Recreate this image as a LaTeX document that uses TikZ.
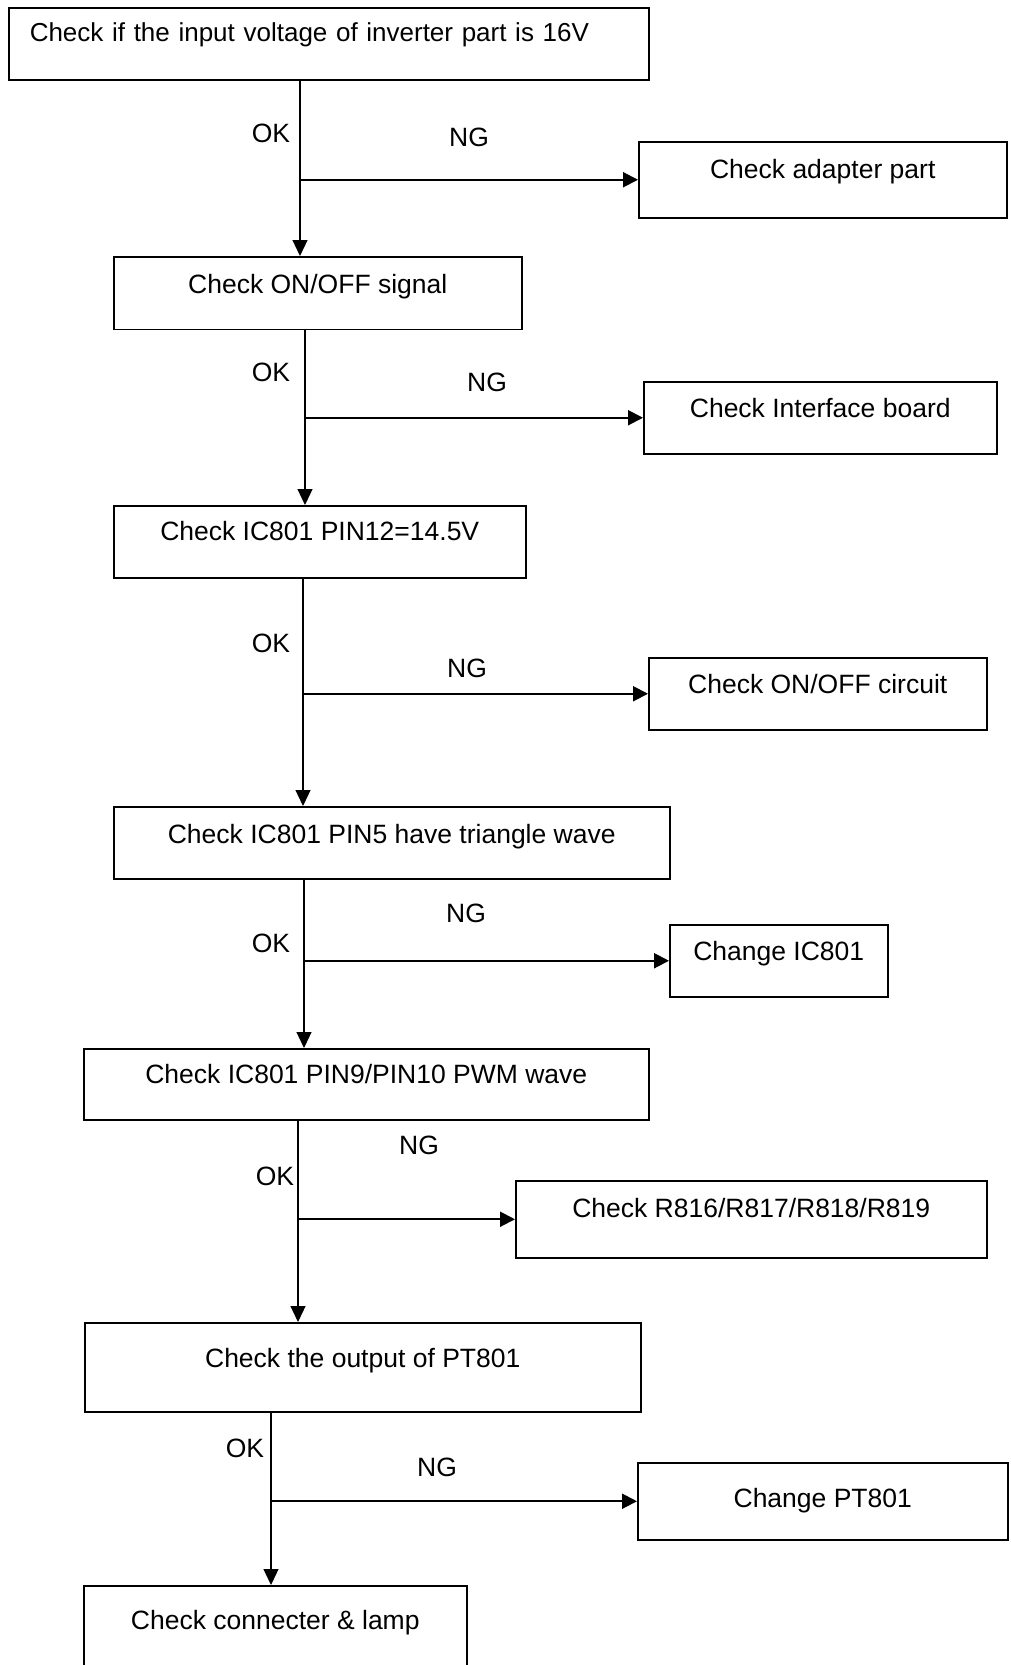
\documentclass[tikz,border=0pt]{standalone}
\usepackage{fontspec}
\setmainfont{Liberation Sans}
\usepackage{tikz}
\usetikzlibrary{arrows.meta,positioning}

\begin{document}
\begin{tikzpicture}[
  x=1pt,y=-1pt,
  font=\fontsize{26.5}{30}\selectfont,
  box/.style={draw,line width=1.5pt,inner sep=0pt,anchor=north west,align=center,
    minimum width=#1,text height=36pt,text depth=36pt},
  lbl/.style={inner sep=0pt},
  okarr/.style={line width=1.2pt,-{Triangle[length=16pt,width=15pt]}},
  ngarr/.style={line width=2pt,-{Triangle[length=15pt,width=15pt]}}
]
\useasboundingbox (0,0) rectangle (1011,1665);
% main column
\node[box=640,align=left,text width=598pt,inner xsep=21pt,text height=34pt,text depth=38pt,
  font=\fontsize{26}{30}\selectfont] (chkin) at (8,7) {Check if the input voltage of inverter part is 16V};
\node[box=408,text height=36.5pt] (onoff) at (113,256) {Check ON/OFF signal};
\node[box=412,text height=34.5pt,text depth=37.5pt] (pin12) at (113,505) {Check IC801 PIN12=14.5V};
\node[box=556,text height=36.5pt,text depth=35.5pt] (pin5) at (113,806) {Check IC801 PIN5 have triangle wave};
\node[box=565,text height=34.5pt,text depth=36.5pt] (pwm) at (83,1048) {Check IC801 PIN9/PIN10 PWM wave};
\node[box=556,text height=44.5pt,text depth=44.5pt] (pt) at (84,1322) {Check the output of PT801};
\node[box=383,text height=43.5pt,text depth=41.5pt] (lamp) at (83,1585) {Check connecter \& lamp};
% NG boxes
\node[box=368,text height=36.5pt,text depth=39.5pt] (adapt) at (638,141) {Check adapter part};
\node[box=353,text height=35.5pt,text depth=36.5pt] (iface) at (643,381) {Check Interface board};
\node[box=338,text height=35.5pt,text depth=36.5pt] (onoffc) at (648,657) {Check ON/OFF circuit};
\node[box=218,text height=35.5pt,text depth=36.5pt] (chgic) at (669,924) {Change IC801};
\node[box=471,text height=36.5pt,text depth=40.5pt] (rres) at (515,1180) {Check R816/R817/R818/R819};
\node[box=370,text height=44.5pt,text depth=32.5pt] (chgpt) at (637,1462) {Change PT801};
% OK / NG labels
\node[lbl] (ok1) at (271,133) {OK};  \node[lbl] (ng1) at (469,137) {NG};
\node[lbl] (ok2) at (271,372) {OK};  \node[lbl] (ng2) at (487,382) {NG};
\node[lbl] (ok3) at (271,643) {OK};  \node[lbl] (ng3) at (467,668) {NG};
\node[lbl] (ok4) at (271,943) {OK};  \node[lbl] (ng4) at (466,913) {NG};
\node[lbl] (ok5) at (275,1176) {OK}; \node[lbl] (ng5) at (419,1145) {NG};
\node[lbl] (ok6) at (245,1448) {OK}; \node[lbl] (ng6) at (437,1467) {NG};
% connectors
\coordinate (v1) at (300,79);
\coordinate (v2) at (305,329);
\coordinate (v3) at (303,577);
\coordinate (v4) at (304,878);
\coordinate (v5) at (298,1119);
\coordinate (v6) at (271,1411);
\draw[okarr] (v1) -- (v1 |- onoff.north);
\draw[okarr] (v2) -- (v2 |- pin12.north);
\draw[okarr] (v3) -- (v3 |- pin5.north);
\draw[okarr] (v4) -- (v4 |- pwm.north);
\draw[okarr] (v5) -- (v5 |- pt.north);
\draw[okarr] (v6) -- (v6 |- lamp.north);
\draw[ngarr] (v1 |- adapt.west) -- (adapt.west);
\draw[ngarr] (v2 |- iface.west) -- (iface.west);
\draw[ngarr] (v3 |- onoffc.west) -- (onoffc.west);
\draw[ngarr] (v4 |- chgic.west) -- (chgic.west);
\draw[ngarr] (v5 |- rres.west) -- (rres.west);
\draw[ngarr] (v6 |- chgpt.west) -- (chgpt.west);
\end{tikzpicture}
\end{document}
